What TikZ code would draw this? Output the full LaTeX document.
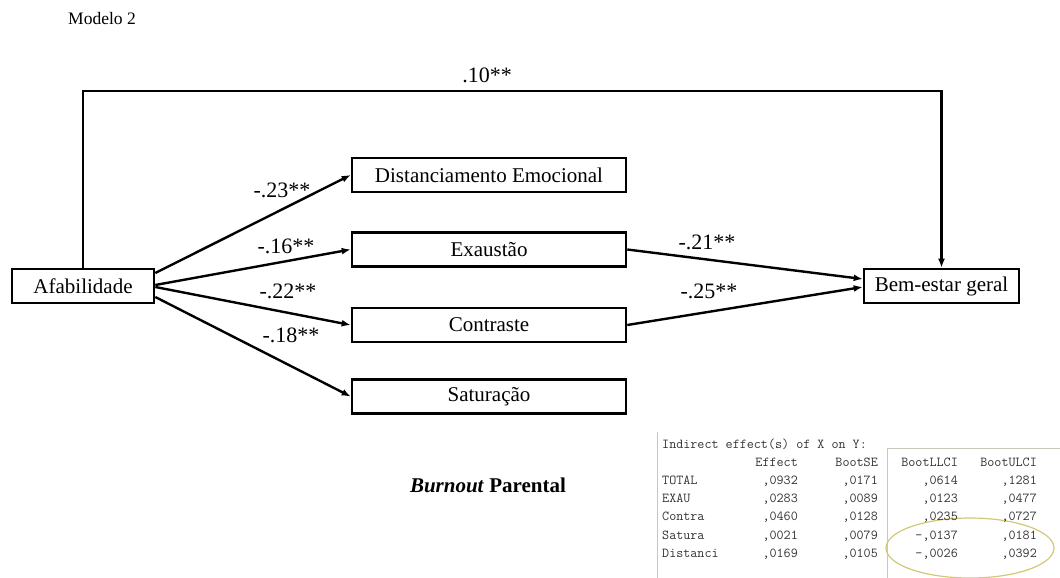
\documentclass[tikz,border=0pt]{standalone}
\usepackage{fontspec}
\setmainfont{Liberation Serif}
\definecolor{OutText}{RGB}{51,51,51}
\definecolor{OutLine}{RGB}{196,202,186}
\definecolor{OutOval}{RGB}{210,200,120}
\usepackage{tikz}
\usetikzlibrary{
    arrows.meta,
    positioning,
    calc,
}

\begin{document}
\begin{tikzpicture}[x=1pt, y=-1pt,
        varbox/.style={draw, line width=2.6pt, minimum height=34pt, inner sep=0pt,
            font=\fontsize{21}{25}\selectfont},
        pathlab/.style={font=\fontsize{22}{26}\selectfont, inner sep=0pt},
        arr/.style={-{Latex[length=9pt,width=7pt]}, line width=2.4pt},
        outcell/.style={font=\ttfamily\fontsize{13.7}{16}\selectfont, text=OutText, inner sep=0pt},
    ]
        \useasboundingbox (0,0) rectangle (1060,578);
        \node[font=\fontsize{17.5}{20}\selectfont, anchor=west, inner sep=0pt] (title) at (68,19) {Modelo 2};

        % variables
        \node[varbox, minimum width=142pt] (afab) at (83,286) {Afabilidade};
        \node[varbox, minimum width=274pt] (dist) at (489,175) {Distanciamento Emocional};
        \node[varbox, minimum width=274pt] (exau) at (489,249.5) {Exaustão};
        \node[varbox, minimum width=274pt] (contra) at (489,325) {Contraste};
        \node[varbox, minimum width=274pt] (satura) at (489,396.5) {Saturação};
        \node[varbox, minimum width=155pt] (bem) at (941.5,286) {Bem-estar geral};

        % paths
        \coordinate (top) at (487,91);
        \draw[arr] (afab.north) |- (top) -| (bem.north);
        \draw[arr] ([yshift=13pt]afab.east) -- (dist.west);
        \draw[arr] ([yshift=1pt]afab.east) -- (exau.west);
        \draw[arr] ([yshift=-1pt]afab.east) -- (contra.west);
        \draw[arr] ([yshift=-11pt]afab.east) -- (satura.west);
        \draw[arr] (exau.east) -- ([yshift=7pt]bem.west);
        \draw[arr] (contra.east) -- ([yshift=-1pt]bem.west);

        \node[pathlab] (ldirect) at (487,75) {.10**};
        \node[pathlab] (ldist) at (282,190) {-.23**};
        \node[pathlab] (lexau) at (286,246) {-.16**};
        \node[pathlab] (lcontra) at (288,291) {-.22**};
        \node[pathlab] (lsatura) at (291,335) {-.18**};
        \node[pathlab] (lexaubem) at (707,242) {-.21**};
        \node[pathlab] (lcontrabem) at (709,291) {-.25**};

        \node[font=\fontsize{21}{25}\selectfont\bfseries, inner sep=0pt] (burnout) at (488,485) {\textit{Burnout} Parental};

        % indirect effects output
        \draw[OutLine, line width=0.8pt] (657,432) -- (657,578);
        \draw[OutLine, line width=1pt] (887,578) -- (887,448) -- (1060,448);
        \draw[OutOval, line width=1.2pt] (970,548) ellipse [x radius=84, y radius=30];
        \node[outcell, anchor=mid west] (outhead) at (662,446) {Indirect effect(s) of X on Y:};
        \node[outcell, anchor=mid east] (heffect) at (798,464) {Effect};
        \node[outcell, anchor=mid east] (hse) at (878,464) {BootSE};
        \node[outcell, anchor=mid east] (hllci) at (958,464) {BootLLCI};
        \node[outcell, anchor=mid east] (hulci) at (1037,464) {BootULCI};
        \foreach \rname/\eff/\se/\ll/\ul [count=\r] in {
            TOTAL/{,0932}/{,0171}/{,0614}/{,1281},
            EXAU/{,0283}/{,0089}/{,0123}/{,0477},
            Contra/{,0460}/{,0128}/{,0235}/{,0727},
            Satura/{,0021}/{,0079}/{-,0137}/{,0181},
            Distanci/{,0169}/{,0105}/{-,0026}/{,0392}} {
            \node[outcell, anchor=mid west] (row\r) at (662,464+18.2*\r) {\rname};
            \node[outcell, anchor=mid east] (eff\r) at (798,464+18.2*\r) {\eff};
            \node[outcell, anchor=mid east] (se\r) at (878,464+18.2*\r) {\se};
            \node[outcell, anchor=mid east] (ll\r) at (958,464+18.2*\r) {\ll};
            \node[outcell, anchor=mid east] (ul\r) at (1037,464+18.2*\r) {\ul};
        }
    \end{tikzpicture}
\end{document}
